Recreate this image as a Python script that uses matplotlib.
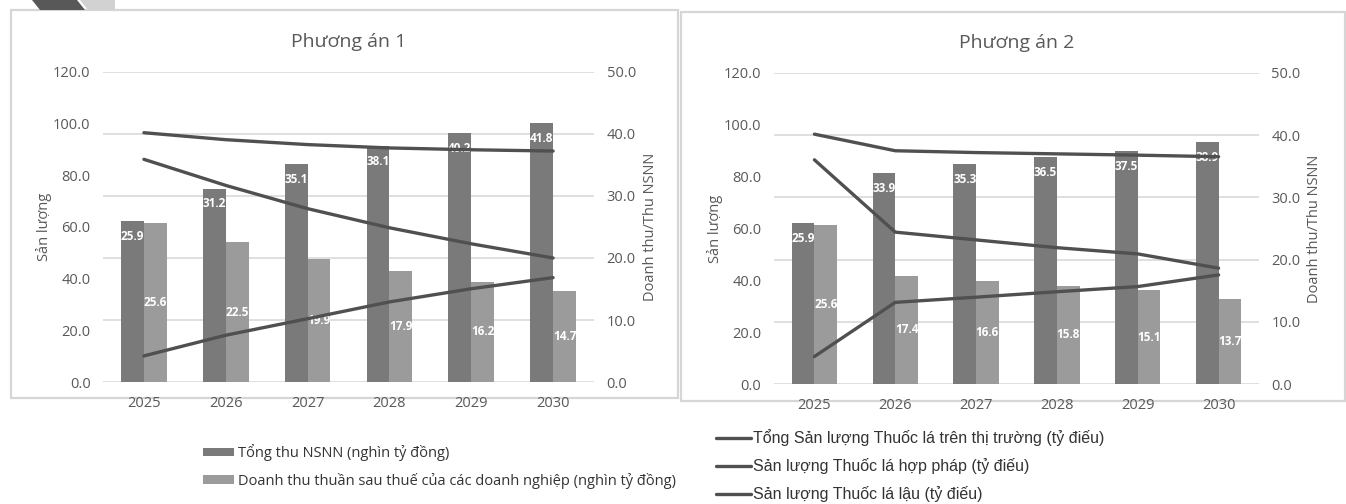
import matplotlib.pyplot as plt
import numpy as np
from matplotlib.patches import Rectangle, Polygon

# data
years = ['2025', '2026', '2027', '2028', '2029', '2030']

# Phuong an 1
pa1_nsnn = [25.9, 31.2, 35.1, 38.1, 40.2, 41.8]
pa1_doanhthu = [25.6, 22.5, 19.9, 17.9, 16.2, 14.7]
pa1_tong = [96.5, 93.8, 91.9, 90.6, 89.9, 89.4]
pa1_hopphap = [86.2, 76.1, 67.1, 59.7, 53.5, 48.0]
pa1_lau = [10.1, 18.1, 24.5, 31.0, 36.1, 40.4]

# Phuong an 2
pa2_nsnn = [25.9, 33.9, 35.3, 36.5, 37.5, 38.9]
pa2_doanhthu = [25.6, 17.4, 16.6, 15.8, 15.1, 13.7]
pa2_tong = [96.4, 90.0, 89.3, 88.8, 88.3, 87.7]
pa2_hopphap = [86.5, 58.6, 55.6, 52.6, 50.2, 44.7]
pa2_lau = [10.6, 31.5, 33.5, 35.6, 37.6, 42.1]

bar_names = ['Tổng thu NSNN (nghìn tỷ đồng)',
             'Doanh thu thuần sau thuế của các doanh nghiệp (nghìn tỷ đồng)']
line_names = ['Tổng Sản lượng Thuốc lá trên thị trường (tỷ điếu)',
              'Sản lượng Thuốc lá hợp pháp (tỷ điếu)',
              'Sản lượng Thuốc lá lậu (tỷ điếu)']

DARK_BAR = '#7a7a7a'
LIGHT_BAR = '#9b9b9b'
LINE_COL = '#505050'
GRID_COL = '#d9d9d9'
TXT = '#595959'
CAL = ['Open Sans', 'Noto Sans', 'DejaVu Sans']
ARI = ['Liberation Sans', 'DejaVu Sans']

W, H = 1346, 504
fig = plt.figure(figsize=(W / 100, H / 100), dpi=100)


def px(x, y):
    return x / W, 1 - y / H


def draw_panel(left, top, right, bottom, title, nsnn, dt, tong, hp, lau):
    x0, y0 = px(left, bottom)
    x1, y1 = px(right, top)
    ax = fig.add_axes([x0, y0, x1 - x0, y1 - y0])
    ax2 = ax.twinx()
    x = np.arange(len(years))
    w = 0.28
    b1 = ax2.bar(x - w / 2, nsnn, w, color=DARK_BAR, zorder=2)
    b2 = ax2.bar(x + w / 2, dt, w, color=LIGHT_BAR, zorder=2)
    for rect, v in zip(b1, nsnn):
        ax2.annotate(f'{v:.1f}', (rect.get_x() + rect.get_width() / 2, v),
                     xytext=(0, -11), textcoords='offset points',
                     ha='center', va='center', color='white',
                     fontsize=8.5, fontweight='bold', family=CAL)
    ax2.bar_label(b2, labels=[f'{v:.1f}' for v in dt], label_type='center',
                  color='white', fontsize=8.5, fontweight='bold', family=CAL)
    ax2.set_ylim(0, 50)
    ax2.set_yticks(np.arange(0, 51, 10))
    ax2.set_yticklabels([f'{v:.1f}' for v in np.arange(0, 51, 10)])
    ax2.yaxis.grid(True, color=GRID_COL, lw=1.2, zorder=0)
    ax2.set_axisbelow(True)

    ax.set_zorder(ax2.get_zorder() + 1)
    ax.patch.set_visible(False)
    for vals in (tong, hp, lau):
        ax.plot(x, vals, color=LINE_COL, lw=2.4, solid_capstyle='round')
    ax.set_ylim(0, 120)
    ax.set_yticks(np.arange(0, 121, 20))
    ax.set_yticklabels([f'{v:.1f}' for v in np.arange(0, 121, 20)])
    ax.set_xlim(-0.5, 5.5)
    ax.set_xticks(x)
    ax.set_xticklabels(years)

    for a in (ax, ax2):
        for s in a.spines.values():
            s.set_visible(False)
        for lab in a.get_xticklabels() + a.get_yticklabels():
            lab.set_family(CAL)
            lab.set_fontsize(10.5)
            lab.set_color(TXT)
    ax.tick_params(axis='y', length=0, pad=9)
    ax.tick_params(axis='x', length=0, pad=10)
    ax2.tick_params(axis='y', length=0, pad=9)

    cx = (x0 + x1) / 2
    fig.text(cx, y1 + 30 / H, title, ha='center', va='center',
             fontsize=14, color=TXT, family=CAL)
    cy = (y0 + y1) / 2
    fig.text(x0 - 59 / W, cy, 'Sản lượng', rotation=90, ha='center',
             va='center', fontsize=10.5, color=TXT, family=CAL)
    fig.text(x1 + 56 / W, cy, 'Doanh thu/Thu NSNN', rotation=90,
             ha='center', va='center', fontsize=10.5, color=TXT, family=CAL)
    return b1, b2, ax.lines


# chart frames
for (l, t, r, b) in [(11, 10, 678, 398), (681, 12, 1345, 401)]:
    fx, fy = px(l, b)
    fig.add_artist(Rectangle((fx, fy), (r - l) / W, (b - t) / H,
                             transform=fig.transFigure, fill=False,
                             edgecolor='#d6d6d6', lw=1.6))

# corner decoration
fig.add_artist(Polygon([px(32, 0), px(77, 0), px(85, 10), px(40, 10)],
                       closed=True, transform=fig.transFigure,
                       facecolor='#585858', edgecolor='none'))
fig.add_artist(Polygon([px(80, 0), px(115, 0), px(115, 10), px(88, 10)],
                       closed=True, transform=fig.transFigure,
                       facecolor='#d2d2d2', edgecolor='none'))

b1, b2, lines = draw_panel(103, 72, 594, 382, 'Phương án 1', pa1_nsnn,
                           pa1_doanhthu, pa1_tong, pa1_hopphap, pa1_lau)
draw_panel(774, 73, 1259, 384, 'Phương án 2', pa2_nsnn,
           pa2_doanhthu, pa2_tong, pa2_hopphap, pa2_lau)

leg1 = fig.legend([b1, b2], bar_names, loc='center left',
                  bbox_to_anchor=(203 / W, 1 - 466.5 / H), frameon=False,
                  borderpad=0, borderaxespad=0, handlelength=2.1,
                  handleheight=0.55, handletextpad=0.3, labelspacing=0.8,
                  prop={'family': CAL, 'size': 10.5})
for t in leg1.get_texts():
    t.set_color('#333333')

leg2 = fig.legend(list(lines), line_names, loc='center left',
                  bbox_to_anchor=(716 / W, 1 - 466 / H), frameon=False,
                  borderpad=0, borderaxespad=0, handlelength=2.2,
                  handletextpad=0.1, labelspacing=0.75,
                  prop={'family': ARI, 'size': 11.5})
for t in leg2.get_texts():
    t.set_color('#333333')

fig.savefig('out.png', dpi=100, facecolor='white')
